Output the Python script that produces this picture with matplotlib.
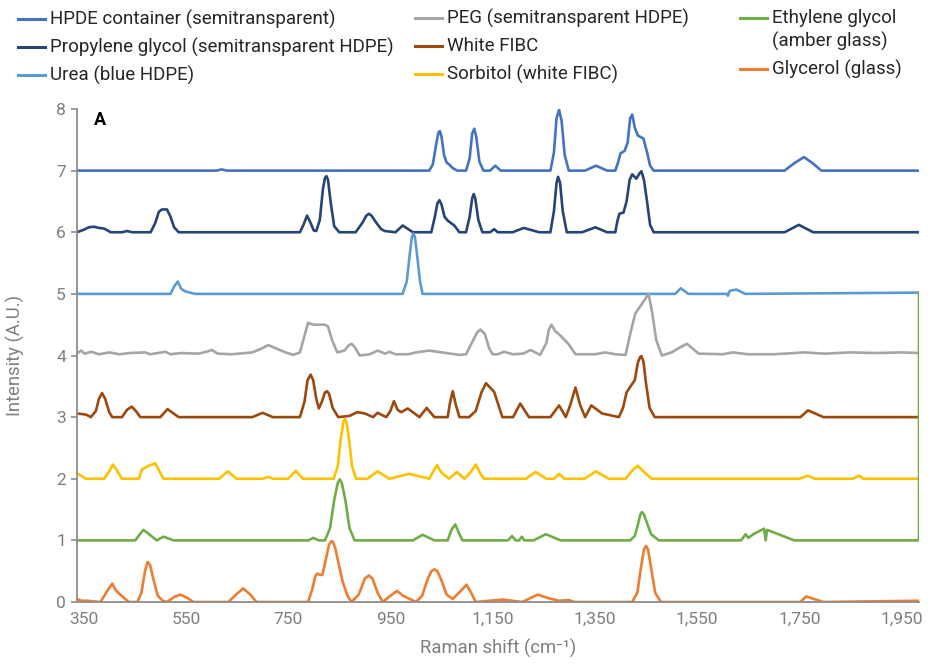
import numpy as np
import matplotlib.pyplot as plt
from matplotlib.lines import Line2D
from matplotlib.ticker import FuncFormatter

plt.rcParams['font.family'] = ['Roboto', 'DejaVu Sans']

# series names, colours and vertical offsets (A.U.)
names = ["HPDE container (semitransparent)", "Propylene glycol (semitransparent HDPE)",
         "Urea (blue HDPE)", "PEG (semitransparent HDPE)", "White FIBC",
         "Sorbitol (white FIBC)", "Ethylene glycol\n(amber glass)", "Glycerol (glass)"]
colors = ["#4472C4", "#264478", "#5B9BD5", "#A5A5A5", "#9E480E", "#FFC000", "#70AD47", "#ED7D31"]
offsets = [7, 6, 5, 4, 3, 2, 1, 0]

# spectra: (Raman shift cm-1, intensity above own baseline)
hpde = [(337, 0), (610, 0), (620, 0.02), (630, 0), (1026, 0), (1033, 0.1), (1040, 0.45),
        (1044, 0.62), (1047, 0.64), (1050, 0.55), (1055, 0.25), (1060, 0.13), (1065, 0.1),
        (1072, 0.04), (1081, 0), (1098, 0), (1105, 0.2), (1110, 0.6), (1114, 0.68), (1118, 0.55),
        (1124, 0.15), (1132, 0), (1145, 0), (1155, 0.08), (1166, 0), (1263, 0), (1270, 0.3),
        (1275, 0.85), (1280, 0.99), (1285, 0.8), (1291, 0.25), (1299, 0), (1331, 0), (1352, 0.08),
        (1374, 0), (1390, 0), (1396, 0.15), (1400, 0.28), (1408, 0.32), (1414, 0.45),
        (1419, 0.85), (1423, 0.91), (1428, 0.7), (1434, 0.57), (1445, 0.52), (1452, 0.3),
        (1458, 0.08), (1465, 0), (1721, 0), (1740, 0.12), (1759, 0.22), (1776, 0.12), (1793, 0),
        (1984, 0)]

prop = [(337, 0), (350, 0.04), (360, 0.08), (370, 0.09), (380, 0.07), (390, 0.06), (403, 0),
        (425, 0), (435, 0.02), (445, 0), (481, 0), (490, 0.15), (497, 0.33), (503, 0.37),
        (513, 0.37), (520, 0.25), (527, 0.08), (536, 0), (773, 0), (780, 0.12), (787, 0.27),
        (794, 0.15), (800, 0.03), (805, 0.02), (812, 0.2), (818, 0.7), (822, 0.88), (825, 0.91),
        (828, 0.85), (833, 0.5), (840, 0.1), (850, 0), (882, 0), (895, 0.15), (903, 0.27),
        (908, 0.3), (913, 0.27), (922, 0.16), (932, 0.05), (939, 0.02), (960, 0), (974, 0.11),
        (994, 0), (1030, 0), (1037, 0.25), (1042, 0.47), (1046, 0.52), (1050, 0.45),
        (1056, 0.25), (1062, 0.19), (1075, 0.11), (1085, 0), (1098, 0), (1105, 0.25),
        (1110, 0.55), (1113, 0.62), (1116, 0.55), (1122, 0.2), (1130, 0), (1145, 0),
        (1153, 0.05), (1160, 0), (1189, 0), (1211, 0.07), (1241, 0), (1263, 0), (1270, 0.35),
        (1275, 0.8), (1278, 0.9), (1282, 0.8), (1287, 0.35), (1295, 0), (1325, 0), (1351, 0.08),
        (1374, 0), (1390, 0), (1394, 0.18), (1398, 0.3), (1406, 0.32), (1412, 0.5),
        (1418, 0.85), (1423, 0.94), (1431, 0.87), (1437, 0.95), (1441, 0.99), (1446, 0.85),
        (1452, 0.5), (1458, 0.12), (1465, 0), (1721, 0), (1749, 0.12), (1777, 0), (1984, 0)]

urea = [(337, 0), (520, 0), (527, 0.12), (534, 0.2), (541, 0.08), (549, 0.04), (568, 0),
        (974, 0), (982, 0.2), (988, 0.65), (992, 0.92), (995, 0.98), (998, 0.92), (1002, 0.65),
        (1008, 0.2), (1013, 0), (1507, 0), (1518, 0.09), (1533, 0), (1608, 0), (1610, -0.03),
        (1614, 0.05), (1627, 0.07), (1644, 0), (1984, 0.02)]

peg = [(337, 0.03), (345, 0.08), (352, 0.03), (365, 0.06), (380, 0.02), (400, 0.05),
       (420, 0.02), (440, 0.04), (470, 0.05), (480, 0.02), (510, 0.06), (520, 0.02), (540, 0.04),
       (575, 0.03), (590, 0.06), (601, 0.09), (612, 0.03), (640, 0.02), (680, 0.05), (700, 0.12),
       (711, 0.17), (725, 0.12), (745, 0.05), (760, 0.01), (773, 0.05), (783, 0.35), (789, 0.53),
       (800, 0.5), (815, 0.5), (822, 0.5), (828, 0.47), (836, 0.25), (846, 0.05), (860, 0.08),
       (868, 0.16), (874, 0.19), (880, 0.14), (890, 0.0), (910, 0.02), (925, 0.08), (940, 0.03),
       (948, 0.06), (960, 0.02), (985, 0.02), (1000, 0.05), (1026, 0.08), (1050, 0.05),
       (1085, 0.01), (1098, 0.02), (1112, 0.25), (1120, 0.38), (1126, 0.42), (1135, 0.35),
       (1143, 0.12), (1150, 0.02), (1160, 0.02), (1172, 0.06), (1190, 0.02), (1210, 0.03),
       (1224, 0.09), (1243, 0.01), (1255, 0.2), (1260, 0.42), (1265, 0.5), (1272, 0.4),
       (1283, 0.32), (1299, 0.18), (1312, 0.02), (1350, 0.02), (1370, 0.05), (1390, 0.02),
       (1410, 0.01), (1420, 0.38), (1429, 0.68), (1443, 0.85), (1455, 1.0), (1462, 0.7),
       (1470, 0.25), (1481, 0.0), (1500, 0.05), (1514, 0.12), (1530, 0.19), (1553, 0.03),
       (1600, 0.02), (1620, 0.05), (1650, 0.02), (1700, 0.02), (1760, 0.05), (1800, 0.03),
       (1850, 0.05), (1900, 0.04), (1950, 0.05), (1984, 0.04)]

fibc = [(337, 0.06), (355, 0.04), (364, 0.0), (374, 0.1), (380, 0.3), (386, 0.39), (392, 0.3),
        (400, 0.08), (406, 0), (425, 0), (435, 0.12), (444, 0.17), (452, 0.1), (461, 0), (500, 0),
        (514, 0.13), (536, 0), (680, 0), (700, 0.07), (720, 0), (773, 0), (782, 0.25),
        (788, 0.6), (794, 0.69), (799, 0.6), (805, 0.3), (810, 0.14), (816, 0.25), (822, 0.4),
        (826, 0.42), (830, 0.38), (837, 0.15), (848, 0), (870, 0.02), (885, 0.08), (900, 0.06),
        (916, 0), (925, 0.07), (942, 0), (950, 0.1), (957, 0.26), (964, 0.12), (971, 0.08),
        (984, 0.14), (1007, 0), (1021, 0.15), (1036, 0), (1062, 0), (1067, 0.25), (1072, 0.42),
        (1078, 0.2), (1085, 0), (1104, 0), (1117, 0.1), (1128, 0.4), (1137, 0.55), (1145, 0.48),
        (1153, 0.41), (1169, 0), (1190, 0), (1204, 0.22), (1221, 0), (1263, 0), (1280, 0.19),
        (1293, 0), (1302, 0.2), (1312, 0.48), (1321, 0.2), (1331, 0), (1343, 0.19), (1364, 0.06),
        (1397, 0), (1405, 0.15), (1412, 0.4), (1419, 0.49), (1428, 0.6), (1434, 0.88),
        (1438, 0.97), (1441, 0.99), (1445, 0.9), (1450, 0.55), (1457, 0.15), (1467, 0),
        (1752, 0), (1767, 0.11), (1797, 0), (1984, 0)]

sorb = [(337, 0.09), (354, 0), (390, 0), (400, 0.12), (407, 0.23), (414, 0.15), (425, 0),
        (458, 0), (464, 0.15), (477, 0.21), (490, 0.25), (506, 0), (615, 0), (632, 0.12),
        (649, 0), (700, 0), (711, 0.03), (720, 0), (750, 0), (765, 0.13), (779, 0), (839, 0),
        (847, 0.2), (853, 0.65), (858, 0.92), (861, 0.97), (864, 0.92), (869, 0.65), (875, 0.2),
        (883, 0), (905, 0), (925, 0.12), (948, 0), (987, 0.08), (1026, 0), (1034, 0.12),
        (1041, 0.22), (1050, 0.1), (1065, 0), (1080, 0.11), (1095, 0), (1108, 0.12),
        (1117, 0.23), (1125, 0.1), (1133, 0), (1215, 0), (1234, 0.11), (1255, 0), (1270, 0),
        (1280, 0.08), (1290, 0), (1330, 0), (1352, 0.12), (1377, 0), (1410, 0), (1425, 0.15),
        (1434, 0.21), (1445, 0.12), (1461, 0), (1750, 0), (1767, 0.05), (1780, 0), (1855, 0),
        (1867, 0.05), (1875, 0), (1984, 0)]

eg = [(337, 0), (451, 0), (460, 0.1), (467, 0.17), (478, 0.1), (493, 0), (506, 0.06), (526, 0),
      (790, 0), (799, 0.04), (810, 0), (822, 0), (832, 0.2), (840, 0.65), (847, 0.93),
      (851, 0.99), (855, 0.93), (862, 0.65), (870, 0.2), (880, 0), (994, 0), (1013, 0.09),
      (1036, 0), (1062, 0), (1070, 0.18), (1077, 0.26), (1084, 0.12), (1091, 0), (1180, 0),
      (1188, 0.07), (1195, 0), (1202, 0), (1207, 0.06), (1212, 0), (1230, 0), (1254, 0.10),
      (1283, 0), (1419, 0), (1428, 0.07), (1434, 0.25), (1439, 0.42), (1442, 0.46),
      (1446, 0.42), (1452, 0.28), (1460, 0.1), (1475, 0), (1636, 0), (1645, 0.1), (1650, 0.04),
      (1660, 0.1), (1681, 0.19), (1684, 0.0), (1687, 0.17), (1740, 0), (1984, 0), (1984, 4.02)]

gly = [(337, 0.05), (345, 0.02), (357, 0.02), (383, 0), (394, 0.15), (406, 0.30), (412, 0.2),
       (419, 0.14), (438, 0), (455, 0), (463, 0.15), (470, 0.5), (475, 0.65), (480, 0.6),
       (487, 0.35), (495, 0.1), (505, 0.02), (513, 0), (527, 0.08), (539, 0.12), (552, 0.07),
       (565, 0), (633, 0), (648, 0.12), (662, 0.22), (676, 0.12), (688, 0), (789, 0),
       (797, 0.2), (803, 0.42), (807, 0.46), (812, 0.44), (817, 0.44), (824, 0.7), (830, 0.93),
       (835, 0.99), (838, 0.97), (842, 0.88), (848, 0.65), (856, 0.35), (866, 0.1), (874, 0),
       (888, 0.12), (900, 0.38), (908, 0.43), (915, 0.38), (925, 0.15), (935, 0), (950, 0.1),
       (963, 0.18), (975, 0.1), (1000, 0), (1012, 0.1), (1022, 0.35), (1030, 0.5), (1036, 0.53),
       (1042, 0.5), (1050, 0.35), (1060, 0.12), (1072, 0.05), (1090, 0.2), (1099, 0.28),
       (1108, 0.15), (1117, 0), (1169, 0.04), (1208, 0), (1238, 0.12), (1260, 0.06),
       (1280, 0.02), (1299, 0.03), (1310, 0), (1423, 0), (1433, 0.15), (1440, 0.55),
       (1446, 0.85), (1450, 0.91), (1454, 0.85), (1460, 0.55), (1468, 0.15), (1479, 0),
       (1752, 0), (1763, 0.09), (1797, 0), (1984, 0.02)]

spectra = [hpde, prop, urea, peg, fibc, sorb, eg, gly]

x_ticks = [350, 550, 750, 950, 1150, 1350, 1550, 1750, 1950]
y_ticks = [0, 1, 2, 3, 4, 5, 6, 7, 8]

gray = "#7F7F7F"
fig = plt.figure(figsize=(9.32, 6.66), dpi=100)
ax = fig.add_axes([77 / 932, 1 - 602 / 666, 842 / 932, 493 / 666])

for pts, off, c in zip(spectra, offsets, colors):
    xs, ys = zip(*pts)
    ax.plot(xs, np.array(ys) + off, color=c, lw=1.9, solid_joinstyle='round')

ax.set_xlim(337, 1984)
ax.set_ylim(0, 8)
ax.set_xticks(x_ticks)
ax.set_yticks(y_ticks)
ax.xaxis.set_major_formatter(FuncFormatter(lambda v, p: f"{int(v):,}"))
ax.tick_params(axis='x', length=0, pad=7, labelsize=12.5, labelcolor=gray)
ax.tick_params(axis='y', length=4, width=1.2, color="#8C8C8C", pad=4, labelsize=12.5, labelcolor=gray)
for s in ['top', 'right']:
    ax.spines[s].set_visible(False)
for s in ['left', 'bottom']:
    ax.spines[s].set_color("#8C8C8C")
    ax.spines[s].set_linewidth(1.3)
ax.set_xlabel("Raman shift (cm⁻¹)", fontsize=13.3, color=gray)
ax.set_ylabel("Intensity (A.U.)", fontsize=13.3, color=gray)
ax.xaxis.set_label_coords(0.5, -(648 - 602) / 493)
ax.yaxis.set_label_coords(-(77 - 15) / 842, 0.5)
ax.xaxis.label.set_va('center')
ax.yaxis.label.set_va('center')
ax.text(0.027, 0.978, "A", transform=ax.transAxes, fontsize=13, fontweight='bold',
        ha='center', va='center', color='black')

# legend laid out by hand in three columns above the plot (pixel positions of handles)
leg_pos = [(18, 19), (18, 47), (18, 75), (415, 18), (415, 46), (415, 74), (740, 18), (740, 69)]
for (px, py), name, c in zip(leg_pos, names, colors):
    fx, fy = px / 932, 1 - py / 666
    fig.add_artist(Line2D([fx, fx + 27 / 932], [fy, fy], color=c, lw=2.2,
                          transform=fig.transFigure))
    ty = fy
    if "\n" in name:
        ty = 1 - (py + 12) / 666
    fig.text(fx + 32 / 932, ty, name, fontsize=13.5, color="#262626",
             va='center', ha='left', linespacing=1.28)

fig.savefig("out.png", dpi=100)
